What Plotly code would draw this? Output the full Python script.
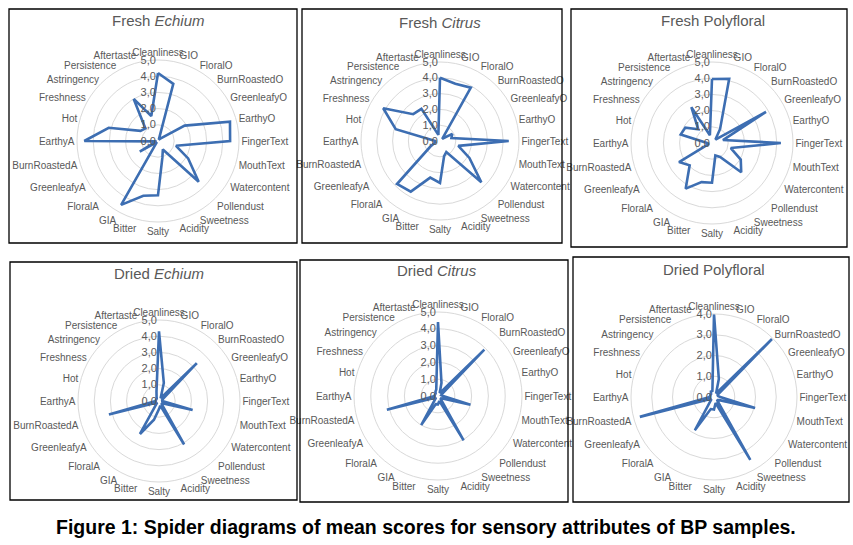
import plotly.graph_objects as go

categories = ["Cleanliness", "GIO", "FloralO", "BurnRoastedO", "GreenleafyO", "EarthyO",
              "FingerText", "MouthText", "Watercontent", "Pollendust", "Sweetness", "Acidity",
              "Salty", "Bitter", "GIA", "FloralA", "GreenleafyA", "BurnRoastedA", "EarthyA",
              "Hot", "Freshness", "Astringency", "Persistence", "Aftertaste"]

fresh_echium = [4.2, 3.65, 0.1, 0.2, 1.9, 4.6, 4.45, 1.15, 2.15, 3.55, 0.6, 1.05,
                3.35, 3.5, 4.55, 0.1, 1.3, 0.1, 4.55, 3.15, 1.25, 1.1, 3.0, 1.6]
fresh_citrus = [4.0, 3.75, 3.9, 0.2, 0.9, 0.75, 4.35, 1.2, 2.15, 3.7, 0.8, 1.0,
                2.65, 2.4, 3.7, 3.85, 0.7, 0.3, 0.3, 2.9, 4.15, 2.4, 2.35, 0.4]
fresh_polyfloral = [3.95, 4.1, 1.0, 0.3, 3.85, 0.7, 4.25, 1.2, 2.05, 2.55, 1.0, 0.8,
                    2.45, 2.5, 3.25, 1.95, 2.35, 0.2, 0.3, 2.0, 1.9, 1.2, 2.55, 0.5]
dried_echium = [4.3, 1.15, 0.2, 3.3, 0.3, 0.2, 0.2, 2.15, 0.3, 0.2, 3.1, 0.3,
                0.5, 1.2, 2.35, 0.2, 0.2, 3.2, 0.2, 0.2, 0.2, 0.2, 0.3, 0.6]
dried_citrus = [4.4, 0.8, 0.2, 3.9, 0.3, 0.2, 0.3, 2.0, 0.3, 0.2, 3.05, 0.3,
                0.5, 0.5, 2.0, 0.2, 0.2, 3.15, 0.2, 0.2, 0.2, 0.2, 0.3, 0.4]
dried_polyfloral = [4.0, 0.9, 0.2, 3.95, 0.2, 0.2, 0.3, 2.05, 0.3, 0.2, 3.5, 0.3,
                    0.6, 0.6, 1.85, 0.2, 0.2, 3.7, 0.2, 0.2, 0.2, 0.2, 0.3, 0.3]

titles = ["Fresh <i>Echium</i>", "Fresh <i>Citrus</i>", "Fresh Polyfloral",
          "Dried <i>Echium</i>", "Dried <i>Citrus</i>", "Dried Polyfloral"]
series = [fresh_echium, fresh_citrus, fresh_polyfloral,
          dried_echium, dried_citrus, dried_polyfloral]
rmax = [5, 5, 5, 5, 5, 4]
caption = "Figure 1: Spider diagrams of mean scores for sensory attributes of BP samples."

W, H = 853, 545
# layout: centre x, centre y, radius (pixels); panel boxes; title positions
centres = [(158, 141, 81), (440, 141, 79), (712, 143, 81),
           (159, 401, 81), (438, 396, 84), (714, 397, 83)]
boxes = [(9, 9, 297, 243), (302, 9, 562, 243), (571, 9, 847, 247),
         (10, 262, 297, 500), (300, 260, 568, 502), (573, 257, 849, 502)]
title_pos = [(158, 20), (440, 22), (713, 20), (159, 273), (437, 270), (714, 269)]

LINE = "#3D6EB2"
GREY = "#595959"
FONT = "Liberation Sans, Arial, sans-serif"

fig = go.Figure()
layout = dict(width=W, height=H, margin=dict(l=0, r=0, t=0, b=0),
              paper_bgcolor="white", plot_bgcolor="white", showlegend=False)
shapes = []
annotations = []

for i, (vals, ttl) in enumerate(zip(series, titles)):
    key = "polar" if i == 0 else f"polar{i+1}"
    cx, cy, R = centres[i]
    fig.add_trace(go.Scatterpolar(
        r=vals + [vals[0]], theta=categories + [categories[0]],
        mode="lines", line=dict(color=LINE, width=2.6),
        subplot=key, hoverinfo="skip"))
    tickv = list(range(0, rmax[i] + 1))
    layout[key] = dict(
        domain=dict(x=[(cx - R) / W, (cx + R) / W], y=[1 - (cy + R) / H, 1 - (cy - R) / H]),
        bgcolor="white",
        angularaxis=dict(rotation=90, direction="clockwise", showgrid=False,
                         showline=True, linecolor="#D9D9D9", linewidth=1,
                         ticks="", tickfont=dict(family=FONT, size=10, color=GREY),
                         categoryorder="array", categoryarray=categories),
        radialaxis=dict(range=[0, rmax[i]], tickvals=tickv,
                        ticktext=[f"{v},0" for v in tickv], angle=90, tickangle=90,
                        side="counterclockwise", showline=False, ticks="",
                        gridcolor="#D9D9D9", gridwidth=1,
                        tickfont=dict(family=FONT, size=11, color=GREY)),
    )
    x0, y0, x1, y1 = boxes[i]
    shapes.append(dict(type="rect", xref="paper", yref="paper",
                       x0=x0 / W, x1=x1 / W, y0=1 - y1 / H, y1=1 - y0 / H,
                       line=dict(color="black", width=1.3), fillcolor="rgba(0,0,0,0)"))
    tx, ty = title_pos[i]
    annotations.append(dict(text=ttl, x=tx / W, y=1 - ty / H, xref="paper", yref="paper",
                            showarrow=False, xanchor="center", yanchor="middle",
                            font=dict(family=FONT, size=15, color=GREY)))

annotations.append(dict(text=f"<b>{caption}</b>", x=426 / W, y=1 - 527 / H, xref="paper", yref="paper",
                        showarrow=False, xanchor="center", yanchor="middle",
                        font=dict(family=FONT, size=19.5, color="black")))

layout["shapes"] = shapes
layout["annotations"] = annotations
fig.update_layout(**layout)
fig.write_html("out.html", config={"displayModeBar": False},
               post_script="document.body.style.margin='0';document.body.style.overflow='hidden';")
